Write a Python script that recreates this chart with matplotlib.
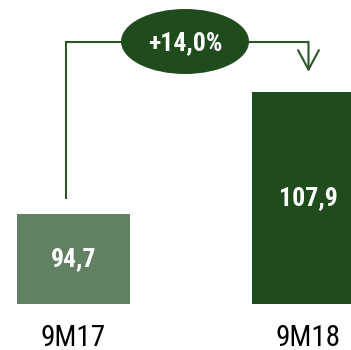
import matplotlib
matplotlib.use("Agg")
import matplotlib.pyplot as plt
from matplotlib.patches import Ellipse

categories = ['9M17', '9M18']
values = [94.7, 107.9]
value_labels = ['94,7', '107,9']
growth_label = '+14,0%'

baseline = 85.0
bar_colors = ['#628062', '#1f4b1d']
dark = '#1f4b1d'
line_color = '#2b5629'
fam = ['Roboto Condensed', 'Liberation Sans', 'DejaVu Sans']

fig = plt.figure(figsize=(3.51, 3.50), dpi=100)
ax = fig.add_axes([0, 0, 1, 1])
ax.set_xlim(-0.3128, 1.1809)
ax.set_ylim(80.0, 117.87)
ax.axis('off')

x = list(range(len(categories)))
heights = [v - baseline for v in values]
ax.bar(x, heights, bottom=baseline, width=0.481, color=bar_colors, linewidth=0)

for xi, v, lab in zip(x, values, value_labels):
    ax.text(xi, baseline + (v - baseline) / 2, lab, ha='center', va='center',
            color='white', fontsize=18.5, fontweight='bold', family=fam)

for xi, cat in zip(x, categories):
    ax.text(xi, 81.35, cat, ha='center', va='center', color='black',
            fontsize=21, family=fam)

# connector
y_top = 113.35
x_left = -0.032
ax.plot([x_left, x_left, x[1]], [96.35, y_top, y_top], color=line_color, lw=1.5,
        solid_capstyle='butt', solid_joinstyle='miter', zorder=2)
ax.annotate('', xy=(x[1], 110.1), xytext=(x[1], y_top),
            arrowprops=dict(arrowstyle='->,head_length=1.4,head_width=0.75',
                            mutation_scale=10, color=line_color, lw=1.5,
                            shrinkA=0, shrinkB=0), zorder=2)

ell = Ellipse((0.4745, 113.38), width=0.5447, height=7.03, facecolor=dark,
              edgecolor='none', zorder=3)
ax.add_patch(ell)
ax.text(0.4745, 113.2, growth_label, ha='center', va='center', color='white',
        fontsize=18.5, fontweight='bold', family=fam, zorder=4)

fig.savefig('out.png', dpi=100)
